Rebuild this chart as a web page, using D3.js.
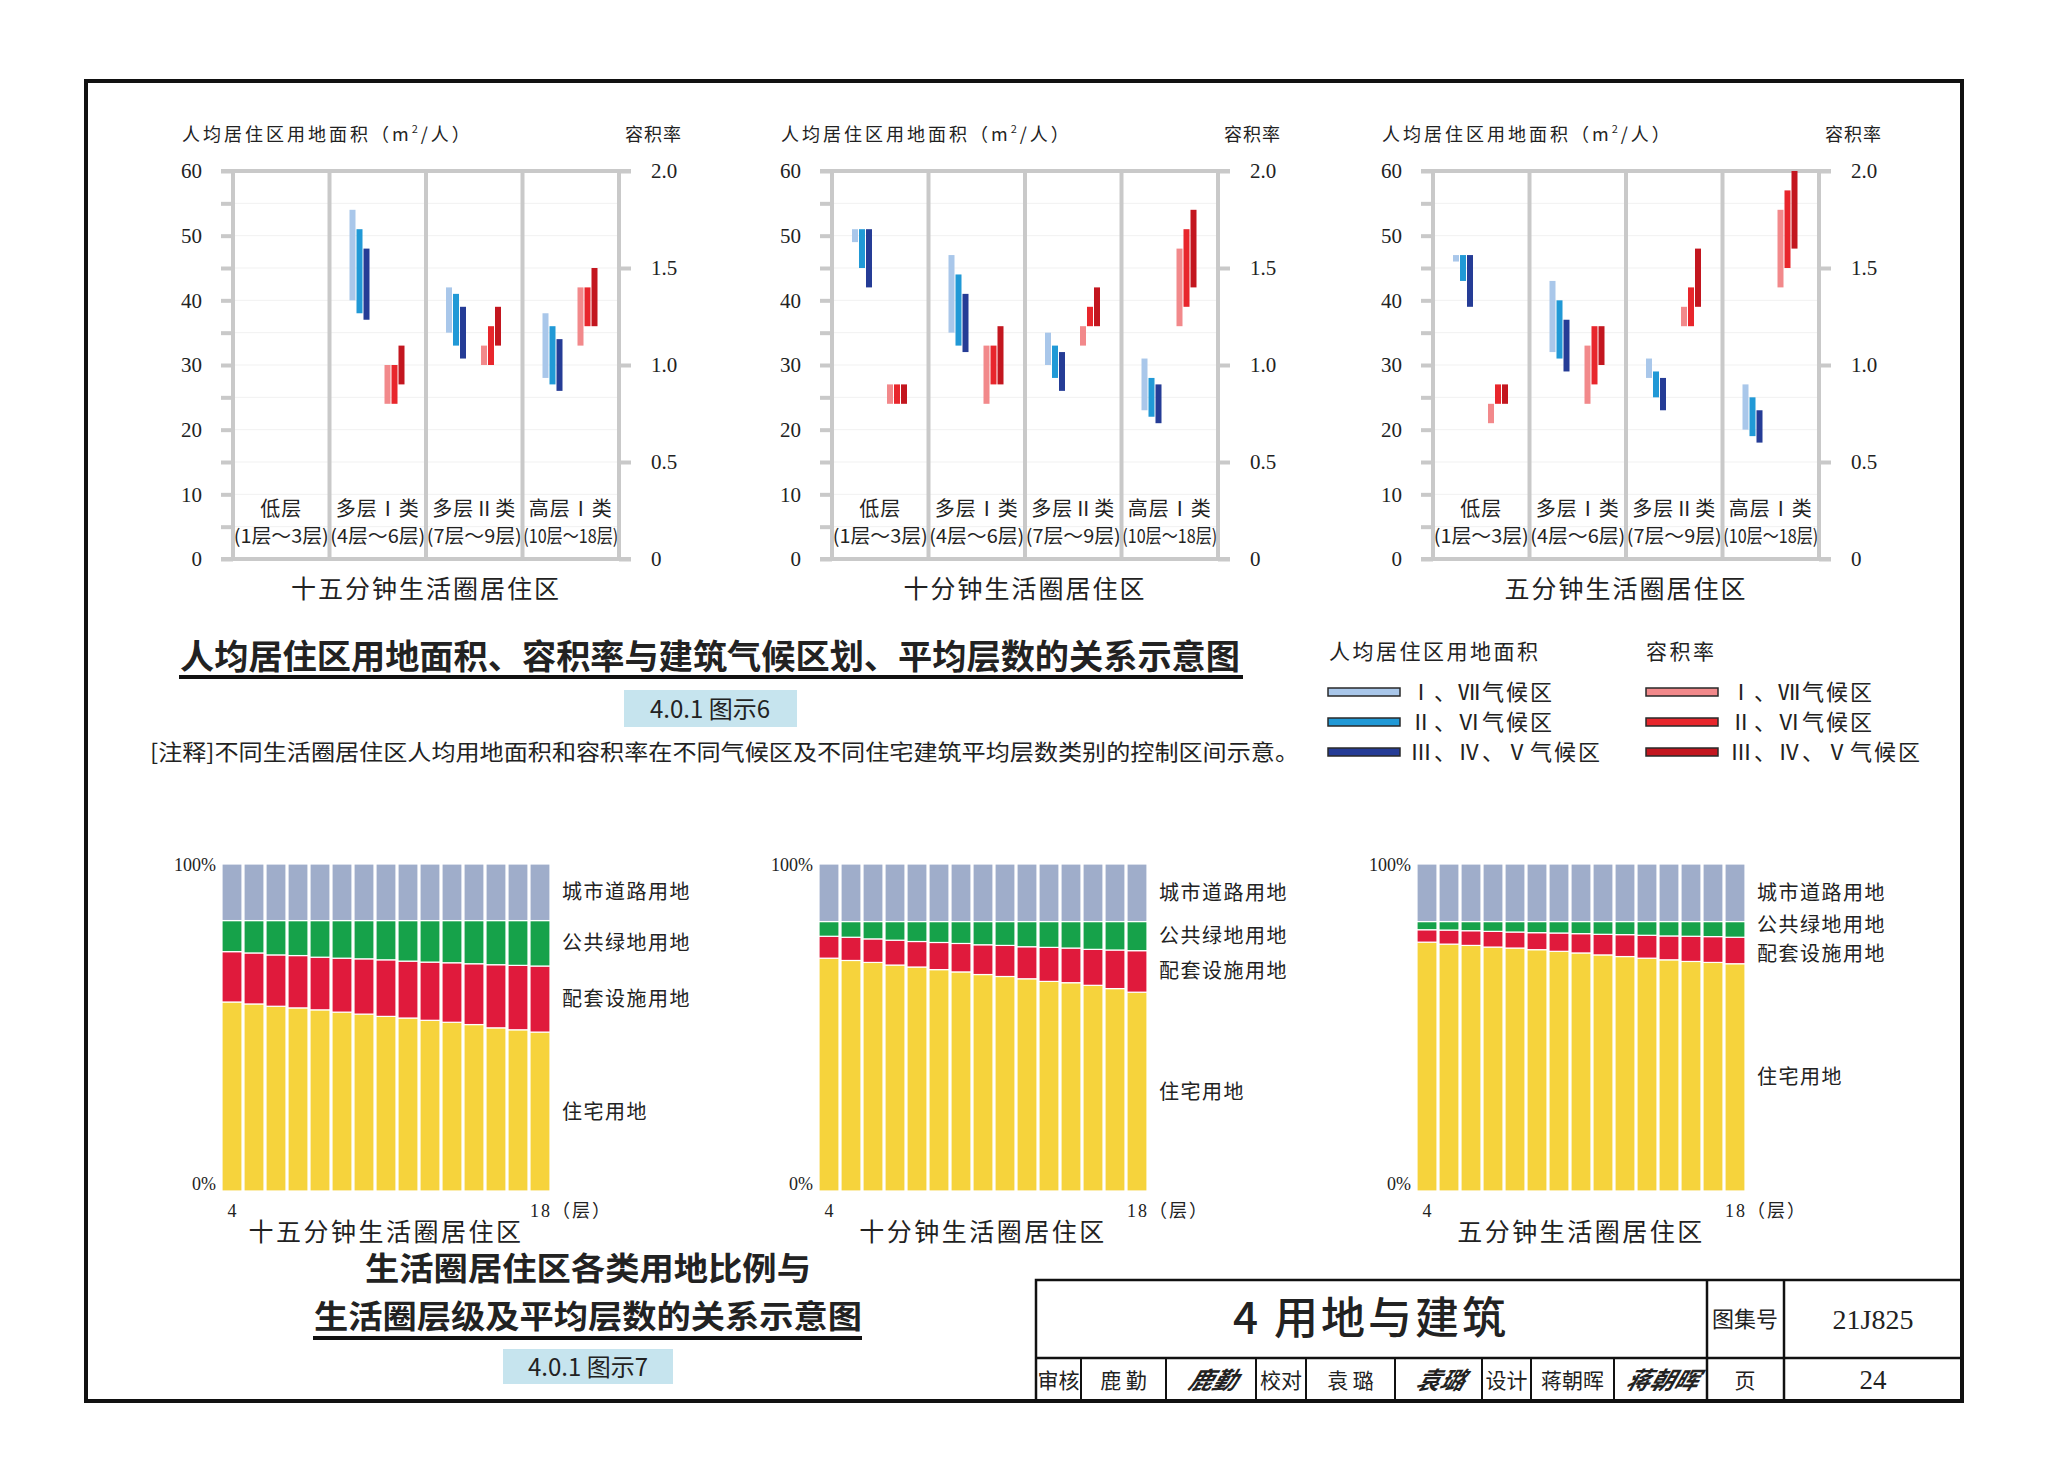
<!DOCTYPE html>
<html lang="zh">
<head>
<meta charset="utf-8">
<script src="https://cdn.jsdelivr.net/npm/d3@7"></script>
<style>
body { margin:0; background:#fff; }
svg { display:block; }
text { font-family:"Noto Sans CJK SC", sans-serif; fill:#222; }
.num { font-family:"Liberation Serif", "Noto Sans CJK SC", serif; }
.axis line { stroke:#c9c9c9; stroke-width:4; }
.axis path { display:none; }
.axis text { font-family:"Liberation Serif", serif; font-size:21px; fill:#222; }
</style>
</head>
<body>
<svg id="page"></svg>
<script>
// ---- data: top charts (per-capita land area m2/person and FAR ranges) ----
var categories = ["低层", "多层Ⅰ类", "多层Ⅱ类", "高层Ⅰ类"];
var catRanges = ["(1层～3层)", "(4层～6层)", "(7层～9层)", "(10层～18层)"];
var circles = ["十五分钟生活圈居住区", "十分钟生活圈居住区", "五分钟生活圈居住区"];
var zones = ["Ⅰ、Ⅶ气候区", "Ⅱ、Ⅵ气候区", "Ⅲ、Ⅳ、Ⅴ气候区"];
var areaTicks = [0, 5, 10, 15, 20, 25, 30, 35, 40, 45, 50, 55, 60];
var farTicks = [0, 0.5, 1.0, 1.5, 2.0];

// [category][zone] = [low, high]
var area15 = [null, [[40,54],[38,51],[37,48]], [[35,42],[33,41],[31,39]], [[28,38],[27,36],[26,34]]];
var far15  = [null, [[0.8,1.0],[0.8,1.0],[0.9,1.1]], [[1.0,1.1],[1.0,1.2],[1.1,1.3]], [[1.1,1.4],[1.2,1.4],[1.2,1.5]]];
var area10 = [[[49,51],[45,51],[42,51]], [[35,47],[33,44],[32,41]], [[30,35],[28,33],[26,32]], [[23,31],[22,28],[21,27]]];
var far10  = [[[0.8,0.9],[0.8,0.9],[0.8,0.9]], [[0.8,1.1],[0.9,1.1],[0.9,1.2]], [[1.1,1.2],[1.2,1.3],[1.2,1.4]], [[1.2,1.6],[1.3,1.7],[1.4,1.8]]];
var area5  = [[[46,47],[43,47],[39,47]], [[32,43],[31,40],[29,37]], [[28,31],[25,29],[23,28]], [[20,27],[19,25],[18,23]]];
var far5   = [[[0.7,0.8],[0.8,0.9],[0.8,0.9]], [[0.8,1.1],[0.9,1.2],[1.0,1.2]], [[1.2,1.3],[1.2,1.4],[1.3,1.6]], [[1.4,1.8],[1.5,1.9],[1.6,2.0]]];

var blueColors = ["#a9c7ea", "#2199d6", "#253c96"];
var redColors = ["#f2898b", "#e8262c", "#c3161f"];

// ---- data: bottom charts (land use share %, floors 4..18) ----
var floors = [4, 5, 6, 7, 8, 9, 10, 11, 12, 13, 14, 15, 16, 17, 18];
var landTypes = ["住宅用地", "配套设施用地", "公共绿地用地", "城市道路用地"];
var landColors = ["#f6d33c", "#e01a3c", "#16a24a", "#9fadca"];

var res15  = [57.8,57.2,56.5,56.0,55.4,54.7,54.1,53.4,52.9,52.2,51.6,50.9,49.9,49.3,48.6];
var fac15  = [15.4,15.6,15.7,16.0,16.1,16.5,16.9,17.3,17.4,17.8,18.2,18.6,19.3,19.7,20.2];
var grn15  = [9.5,9.9,10.5,10.7,11.2,11.5,11.7,12.0,12.4,12.7,12.9,13.2,13.5,13.7,13.9];
var road15 = [17.3,17.3,17.3,17.3,17.3,17.3,17.3,17.3,17.3,17.3,17.3,17.3,17.3,17.3,17.3];

var res10  = [71.2,70.5,69.9,69.1,68.5,67.7,67.0,66.2,65.6,64.9,64.1,63.7,62.9,61.9,60.8];
var fac10  = [6.7,7.1,7.2,7.6,7.8,8.3,8.7,9.1,9.5,9.8,10.4,10.6,11.0,11.8,12.7];
var grn10  = [4.5,4.8,5.3,5.7,6.1,6.4,6.7,7.1,7.3,7.7,7.9,8.1,8.5,8.7,8.9];
var road10 = [17.6,17.6,17.6,17.6,17.6,17.6,17.6,17.6,17.6,17.6,17.6,17.6,17.6,17.6,17.6];

var res5   = [76.1,75.5,75.1,74.6,74.3,73.8,73.3,72.8,72.2,71.7,71.2,70.7,70.2,69.9,69.5];
var fac5   = [3.8,4.3,4.5,4.8,4.9,5.2,5.6,5.9,6.3,6.7,7.0,7.3,7.7,7.9,8.1];
var grn5   = [2.5,2.6,2.8,3.0,3.2,3.4,3.5,3.7,3.9,4.0,4.2,4.4,4.5,4.6,4.8];
var road5  = [17.6,17.6,17.6,17.6,17.6,17.6,17.6,17.6,17.6,17.6,17.6,17.6,17.6,17.6,17.6];

var W = 2048, H = 1482;
var svg = d3.select('#page').attr('width', W).attr('height', H);

function txt(g, x, y, s, size, opt) {
	opt = opt || {};
	var t = g.append('text').attr('x', x).attr('y', y).text(s)
		.attr('font-size', size)
		.attr('text-anchor', opt.anchor || 'start');
	if (opt.weight) t.attr('font-weight', opt.weight);
	if (opt.cls) t.attr('class', opt.cls);
	if (opt.len) t.attr('textLength', opt.len).attr('lengthAdjust', 'spacingAndGlyphs');
	if (opt.ls) t.attr('letter-spacing', opt.ls);
	return t;
}

// outer frame
svg.append('rect').attr('x', 86).attr('y', 81).attr('width', 1876).attr('height', 1320)
	.attr('fill', 'none').attr('stroke', '#111').attr('stroke-width', 4);

// ================= top charts =================
var topX0 = [233, 832, 1433];
var plotW = 386, yTop = 171, yBot = 559;
var topData = [[area15, far15], [area10, far10], [area5, far5]];

function drawRangeChart(ci) {
	var x0 = topX0[ci];
	var g = svg.append('g').attr('transform', 'translate(' + x0 + ',0)');
	var y = d3.scaleLinear().domain([0, 60]).range([yBot, yTop]);
	var y2 = d3.scaleLinear().domain([0, 2]).range([yBot, yTop]);
	var x = d3.scaleBand().domain(categories).range([0, plotW]);
	var slot = d3.scaleLinear().domain([0, 1]).range([20, 27]); // sub-bar offsets inside a band

	// faint grid
	g.selectAll('line.grid').data(areaTicks.slice(1, -1)).enter().append('line')
		.attr('x1', 0).attr('x2', plotW)
		.attr('y1', function(d){ return y(d); }).attr('y2', function(d){ return y(d); })
		.attr('stroke', '#f1f1f1').attr('stroke-width', 1);

	// axes
	g.append('g').attr('class', 'axis')
		.call(d3.axisLeft(y).tickValues(areaTicks).tickSize(12).tickPadding(19)
			.tickFormat(function(d){ return d % 10 === 0 ? d : ''; }));
	g.append('g').attr('class', 'axis').attr('transform', 'translate(' + plotW + ',0)')
		.call(d3.axisRight(y2).tickValues(farTicks).tickSize(12).tickPadding(20)
			.tickFormat(function(d){ return d === 0 ? '0' : d3.format('.1f')(d); }));

	// frame lines
	[0, 60].forEach(function(v){
		g.append('line').attr('x1', -12).attr('x2', plotW + 12)
			.attr('y1', y(v)).attr('y2', y(v)).attr('stroke', '#c9c9c9').attr('stroke-width', 4);
	});
	var bounds = categories.map(function(c){ return x(c); }).concat([plotW]);
	g.selectAll('line.sep').data(bounds).enter().append('line')
		.attr('x1', function(d){ return d; }).attr('x2', function(d){ return d; })
		.attr('y1', yTop).attr('y2', yBot).attr('stroke', '#c9c9c9').attr('stroke-width', 4);

	// bars
	var area = topData[ci][0], far = topData[ci][1];
	categories.forEach(function(c, k) {
		if (!area[k]) return;
		var bg = g.append('g').attr('transform', 'translate(' + x(c) + ',0)');
		bg.selectAll('rect.a').data(area[k]).enter().append('rect')
			.attr('x', function(d, i){ return slot(i); })
			.attr('width', 6)
			.attr('y', function(d){ return y(d[1]); })
			.attr('height', function(d){ return y(d[0]) - y(d[1]); })
			.attr('fill', function(d, i){ return blueColors[i]; });
		bg.selectAll('rect.f').data(far[k]).enter().append('rect')
			.attr('x', function(d, i){ return slot(i + 5); })
			.attr('width', 6)
			.attr('y', function(d){ return y2(d[1]); })
			.attr('height', function(d){ return y2(d[0]) - y2(d[1]); })
			.attr('fill', function(d, i){ return redColors[i]; });
	});

	// category labels
	categories.forEach(function(c, k) {
		var cx = x(c) + x.bandwidth() / 2;
		txt(g, cx, 516, c, 20, {anchor: 'middle', ls: 1});
		txt(g, cx, 543, catRanges[k], 19, {anchor: 'middle', len: 95});
	});

	// axis titles
	var t = txt(g, -51, 141, '人均居住区用地面积（m', 18, {ls: 3});
	t.append('tspan').attr('baseline-shift', 'super').attr('font-size', 11).text('2');
	t.append('tspan').text('/人）');
	txt(g, plotW + 63, 141, '容积率', 18, {anchor: 'end', ls: 1});

	txt(g, plotW / 2, 598, circles[ci], 25, {anchor: 'middle', ls: 2});
}
[0, 1, 2].forEach(drawRangeChart);

// title 6
txt(svg, 710, 669, '人均居住区用地面积、容积率与建筑气候区划、平均层数的关系示意图', 34, {anchor: 'middle', weight: 700, len: 1060});
svg.append('line').attr('x1', 179).attr('x2', 1243).attr('y1', 677).attr('y2', 677).attr('stroke', '#111').attr('stroke-width', 4);
svg.append('rect').attr('x', 624).attr('y', 690).attr('width', 173).attr('height', 37).attr('fill', '#c6e4ee');
txt(svg, 710, 718, '4.0.1 图示6', 24, {anchor: 'middle'});
txt(svg, 150, 760, '[注释]不同生活圈居住区人均用地面积和容积率在不同气候区及不同住宅建筑平均层数类别的控制区间示意。', 22, {len: 1149});

// legend
var legY = [692, 722, 752];
txt(svg, 1329, 659, '人均居住区用地面积', 21, {ls: 2.5});
txt(svg, 1646, 659, '容积率', 21, {ls: 2.5});
[[1328, 1410, blueColors], [1646, 1730, redColors]].forEach(function(spec) {
	var lg = svg.append('g');
	lg.selectAll('rect').data(zones).enter().append('rect')
		.attr('x', spec[0]).attr('y', function(d, i){ return legY[i] - 4; })
		.attr('width', 72).attr('height', 8)
		.attr('fill', function(d, i){ return spec[2][i]; })
		.attr('stroke', '#2a2a2a').attr('stroke-width', 1.5);
	lg.selectAll('text').data(zones).enter().append('text')
		.attr('x', spec[1]).attr('y', function(d, i){ return legY[i] + 8; })
		.attr('font-size', 22).attr('letter-spacing', 2).text(function(d){ return d; });
});

// ================= bottom charts =================
var botX0 = [222, 819, 1417];
var barW = 328, bTop = 864, bBot = 1191;
var landData = [[res15, fac15, grn15, road15], [res10, fac10, grn10, road10], [res5, fac5, grn5, road5]];

function drawShareChart(ci) {
	var x0 = botX0[ci];
	var g = svg.append('g').attr('transform', 'translate(' + x0 + ',0)');
	var x = d3.scaleBand().domain(floors).range([0, barW]).paddingInner(0.09).paddingOuter(0);
	var y = d3.scaleLinear().domain([0, 100]).range([bBot, bTop]);
	var rows = floors.map(function(f, i) {
		var o = {floor: f};
		landTypes.forEach(function(t, j){ o[t] = landData[ci][j][i]; });
		return o;
	});
	var series = d3.stack().keys(landTypes)(rows);
	g.selectAll('g.s').data(series).enter().append('g')
		.attr('fill', function(d, i){ return landColors[i]; })
		.selectAll('rect').data(function(d){ return d; }).enter().append('rect')
		.attr('x', function(d){ return x(d.data.floor); })
		.attr('width', x.bandwidth())
		.attr('y', function(d){ return y(d[1]); })
		.attr('height', function(d){ return y(d[0]) - y(d[1]); })
		.attr('stroke', '#fff').attr('stroke-width', 1.2);

	txt(g, -6, y(100) + 7, '100%', 18, {anchor: 'end', cls: 'num'});
	txt(g, -6, y(0) - 1, '0%', 18, {anchor: 'end', cls: 'num'});

	var first = floors[0], last = floors[floors.length - 1];
	txt(g, x(first) + x.bandwidth() / 2, 1217, String(first), 18, {anchor: 'middle', cls: 'num'});
	txt(g, x(last) + x.bandwidth() / 2 - 10, 1217, last + '（层）', 18, {cls: 'num', ls: 2});

	// series labels at the middle of the last bar's segment, kept apart
	var ys = series.map(function(s) {
		var d = s[s.length - 1];
		return (y(d[0]) + y(d[1])) / 2;
	});
	for (var i = 1; i < ys.length; i++) {
		var gap = ys[i - 1] - ys[i];
		if (gap < 29) { var m = (ys[i - 1] + ys[i]) / 2; ys[i - 1] = m + 14.5; ys[i] = m - 14.5; }
	}
	series.forEach(function(s, i) {
		txt(g, barW + 12, ys[i] + 7, landTypes[i], 20, {ls: 1.5});
	});

	txt(g, barW / 2, 1241, circles[ci], 25, {anchor: 'middle', ls: 2.5});
}
[0, 1, 2].forEach(drawShareChart);

// title 7
txt(svg, 588, 1280, '生活圈居住区各类用地比例与', 32, {anchor: 'middle', weight: 700, len: 446});
txt(svg, 588, 1328, '生活圈层级及平均层数的关系示意图', 32, {anchor: 'middle', weight: 700, len: 548});
svg.append('line').attr('x1', 313).attr('x2', 862).attr('y1', 1338).attr('y2', 1338).attr('stroke', '#111').attr('stroke-width', 4);
svg.append('rect').attr('x', 503).attr('y', 1349).attr('width', 170).attr('height', 35).attr('fill', '#c6e4ee');
txt(svg, 588, 1376, '4.0.1 图示7', 24, {anchor: 'middle'});

// ================= title block =================
var tb = svg.append('g');
var tbL = 1036, tbT = 1280, tbR = 1962, tbB = 1401, tbM = 1358;
tb.append('rect').attr('x', tbL).attr('y', tbT).attr('width', tbR - tbL).attr('height', tbB - tbT)
	.attr('fill', 'none').attr('stroke', '#111').attr('stroke-width', 2.5);
tb.append('line').attr('x1', tbL).attr('x2', tbR).attr('y1', tbM).attr('y2', tbM).attr('stroke', '#111').attr('stroke-width', 2.5);
[1707, 1784].forEach(function(v){
	tb.append('line').attr('x1', v).attr('x2', v).attr('y1', tbT).attr('y2', tbB).attr('stroke', '#111').attr('stroke-width', 2.5);
});
var cellEdges = [1036, 1081, 1166, 1256, 1306, 1395, 1482, 1531, 1614, 1707];
cellEdges.slice(1, -1).forEach(function(v){
	tb.append('line').attr('x1', v).attr('x2', v).attr('y1', tbM).attr('y2', tbB).attr('stroke', '#111').attr('stroke-width', 2);
});
var cellText = ['审核', '鹿 勤', '鹿勤', '校对', '袁 璐', '袁璐', '设计', '蒋朝晖', '蒋朝晖'];
cellText.forEach(function(s, i) {
	var cx = (cellEdges[i] + cellEdges[i + 1]) / 2;
	if (i % 3 === 2) {
		tb.append('text').attr('transform', 'translate(' + cx + ',1389) skewX(-18)')
			.attr('text-anchor', 'middle').attr('font-size', 24).attr('font-weight', 700)
			.attr('font-style', 'italic').text(s);
	} else {
		txt(tb, cx, 1388, s, 21, {anchor: 'middle', len: i === 0 || i === 3 || i === 6 ? 42 : null});
	}
});
txt(tb, 1371, 1334, '4 用地与建筑', 44, {anchor: 'middle', weight: 500, ls: 3});
txt(tb, 1745, 1327, '图集号', 22, {anchor: 'middle'});
txt(tb, 1873, 1329, '21J825', 28, {anchor: 'middle', cls: 'num'});
txt(tb, 1745, 1388, '页', 21, {anchor: 'middle'});
txt(tb, 1873, 1389, '24', 27, {anchor: 'middle', cls: 'num'});
</script>
</body>
</html>
